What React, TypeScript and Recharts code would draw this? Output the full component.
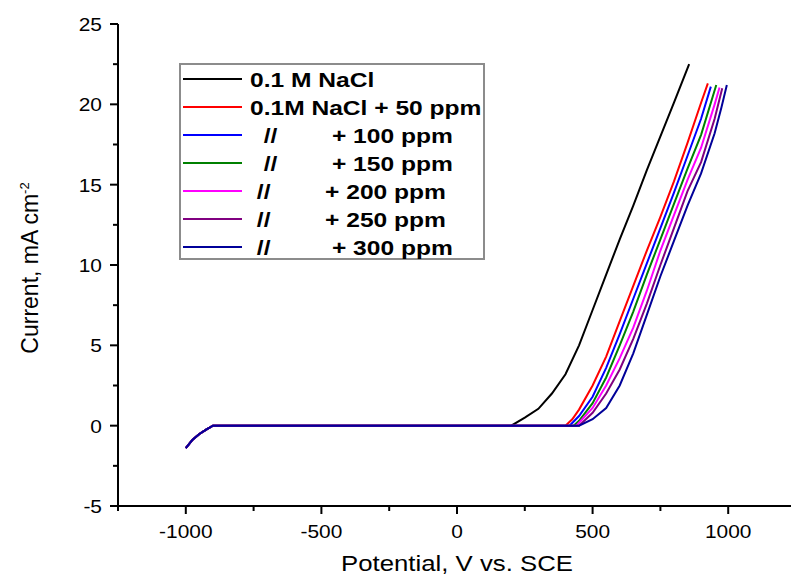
import { LineChart, Line, XAxis, YAxis } from 'recharts'

// shared cathodic branch (all curves overlap here)
const cathodicV = [-1000, -975, -950, -925, -900]
const cathodicI = [-1.4, -0.87, -0.52, -0.25, 0]

// anodic branches, potential in mV vs SCE, current in mA cm-2
const blankV = [200, 250, 300, 350, 400, 450, 500, 550, 600, 650, 700, 750, 800, 856]
const blankI = [0, 0.5, 1.05, 2.0, 3.2, 5.0, 7.2, 9.4, 11.6, 13.7, 15.9, 18.0, 20.1, 22.5]

const ppm50V = [400, 425, 450, 500, 550, 600, 650, 700, 750, 800, 850, 900, 925]
const ppm50I = [0, 0.4, 1.0, 2.5, 4.3, 6.5, 8.7, 10.9, 13.0, 15.2, 17.6, 20.1, 21.3]

const ppm100V = [415, 450, 500, 550, 600, 650, 700, 750, 800, 850, 900, 936]
const ppm100I = [0, 0.6, 1.8, 3.6, 5.7, 7.9, 10.1, 12.3, 14.5, 16.8, 19.1, 21.1]

const ppm150V = [430, 450, 500, 550, 600, 650, 700, 750, 800, 850, 900, 956]
const ppm150I = [0, 0.3, 1.4, 3.0, 5.0, 7.1, 9.4, 11.6, 13.8, 16.0, 18.1, 21.2]

const ppm200V = [440, 500, 550, 600, 650, 700, 750, 800, 850, 900, 950, 968]
const ppm200I = [0, 1.1, 2.5, 4.2, 6.1, 8.4, 10.9, 13.1, 15.3, 17.3, 20.0, 21.05]

const ppm250V = [450, 500, 550, 600, 650, 700, 750, 800, 850, 900, 950, 978]
const ppm250I = [0, 0.8, 2.0, 3.5, 5.4, 7.6, 10.0, 12.3, 14.6, 16.4, 19.1, 21.0]

const ppm300V = [450, 500, 550, 600, 650, 700, 750, 800, 850, 900, 950, 975, 995]
const ppm300I = [0, 0.4, 1.1, 2.5, 4.5, 6.9, 9.3, 11.5, 13.7, 15.7, 18.2, 19.8, 21.2]

const legendLabels = [
  '0.1 M NaCl',
  '0.1M NaCl + 50 ppm',
  '  //        + 100 ppm',
  '  //        + 150 ppm',
  ' //        + 200 ppm',
  ' //        + 250 ppm',
  ' //         + 300 ppm',
]

const xTicks = [-1250, -1000, -750, -500, -250, 0, 250, 500, 750, 1000, 1250]
const yTicks = [-5, -2.5, 0, 2.5, 5, 7.5, 10, 12.5, 15, 17.5, 20, 22.5, 25]

const toPoints = (v: number[], i: number[]) =>
  [...cathodicV, ...v].map((x, k) => ({ v: x, i: [...cathodicI, ...i][k] }))

const SERIES = [
  { color: '#000000', data: toPoints(blankV, blankI) },
  { color: '#ff0000', data: toPoints(ppm50V, ppm50I) },
  { color: '#0000ff', data: toPoints(ppm100V, ppm100I) },
  { color: '#008000', data: toPoints(ppm150V, ppm150I) },
  { color: '#ff00ff', data: toPoints(ppm200V, ppm200I) },
  { color: '#800080', data: toPoints(ppm250V, ppm250I) },
  { color: '#000099', data: toPoints(ppm300V, ppm300I) },
]

const FONT = '"Liberation Sans", Arial, sans-serif'

const XTick = (props: any) => {
  const { x, y, payload } = props
  const major = payload.value % 500 === 0
  return (
    <g>
      <line x1={x} x2={x} y1={y} y2={y + (major ? 8 : 5)} stroke="#000" strokeWidth={2} />
      {major && (
        <text
          transform={`translate(${x},${y + 32}) scale(1.1,1)`}
          textAnchor="middle"
          fontSize={19}
          fontFamily={FONT}
          fill="#000"
        >
          {payload.value}
        </text>
      )}
    </g>
  )
}

const YTick = (props: any) => {
  const { x, y, payload } = props
  const major = payload.value % 5 === 0
  return (
    <g>
      <line x1={x - (major ? 8 : 5)} x2={x} y1={y} y2={y} stroke="#000" strokeWidth={2} />
      {major && (
        <text
          transform={`translate(${x - 16},${y + 7}) scale(1.1,1)`}
          textAnchor="end"
          fontSize={19}
          fontFamily={FONT}
          fill="#000"
        >
          {payload.value}
        </text>
      )}
    </g>
  )
}

const XTitle = () => (
  <text transform="translate(457,571) scale(1.12,1)" textAnchor="middle" fontSize={23} fontFamily={FONT} fill="#000">
    Potential, V vs. SCE
  </text>
)

const YTitle = () => (
  <text transform="translate(38,268) rotate(-90)" textAnchor="middle" fontSize={23} fontFamily={FONT} fill="#000">
    Current, mA cm
    <tspan dy={-9} fontSize={13}>-2</tspan>
  </text>
)

function LegendBox() {
  return (
    <div
      style={{
        position: 'absolute',
        left: 179,
        top: 63,
        width: 306,
        height: 197,
        boxSizing: 'border-box',
        border: '2px solid #8c8c8c',
        background: '#fff',
        fontFamily: FONT,
      }}
    >
      {legendLabels.map((label, k) => (
        <div key={k} style={{ height: 28, display: 'flex', alignItems: 'center' }}>
          <div style={{ marginLeft: 2, width: 59, height: 2, background: SERIES[k].color }} />
          <span
            style={{
              marginLeft: 8,
              fontSize: 21,
              fontWeight: 'bold',
              whiteSpace: 'pre',
              lineHeight: 1,
              display: 'inline-block',
              transform: 'scaleX(1.17)',
              transformOrigin: 'left center',
              color: '#000',
            }}
          >
            {label}
          </span>
        </div>
      ))}
    </div>
  )
}

export default function App() {
  return (
    <div style={{ position: 'absolute', left: 0, top: 0, width: 791, height: 576, overflow: 'hidden', background: '#fff' }}>
      <LineChart width={800} height={576} margin={{ top: 24, right: 4, bottom: 10, left: 8 }}>
        <XAxis
          dataKey="v"
          type="number"
          domain={[-1250, 1250]}
          ticks={xTicks}
          interval={0}
          allowDataOverflow
          height={60}
          tickSize={0}
          tickMargin={0}
          tickLine={false}
          axisLine={{ stroke: '#000', strokeWidth: 2 }}
          tick={<XTick />}
          label={<XTitle />}
        />
        <YAxis
          type="number"
          domain={[-5, 25]}
          ticks={yTicks}
          interval={0}
          allowDataOverflow
          width={110}
          tickSize={0}
          tickMargin={0}
          tickLine={false}
          axisLine={{ stroke: '#000', strokeWidth: 2 }}
          tick={<YTick />}
          label={<YTitle />}
        />
        {SERIES.map((s, k) => (
          <Line
            key={k}
            data={s.data}
            dataKey="i"
            type="linear"
            stroke={s.color}
            strokeWidth={2}
            dot={false}
            isAnimationActive={false}
          />
        ))}
      </LineChart>
      <LegendBox />
    </div>
  )
}
